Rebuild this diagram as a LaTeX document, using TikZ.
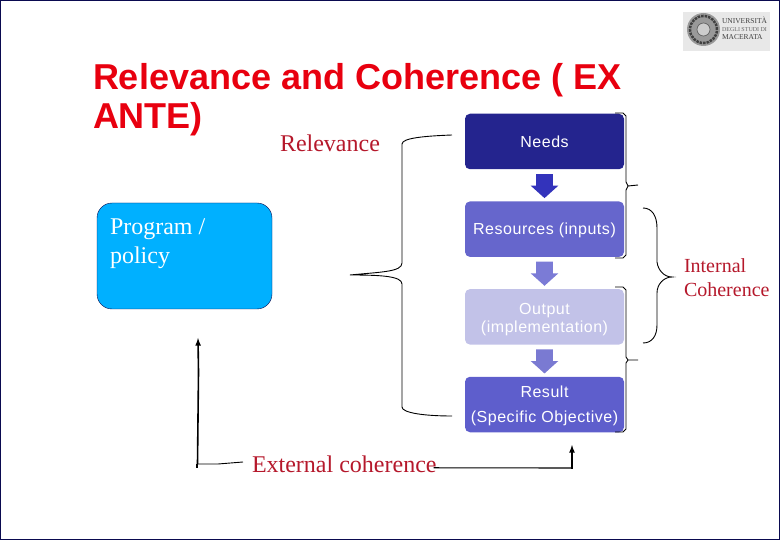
\documentclass[tikz,border=0pt]{standalone}
\usepackage{fontspec}
\setmainfont{Liberation Serif}
\setsansfont{Liberation Sans}
\newfontfamily\boxfont[LetterSpace=3.3]{Liberation Sans}
\usepackage{xcolor}
\usepackage{tikz}
\usetikzlibrary{calc}
\usetikzlibrary{positioning}
\usetikzlibrary{shapes.arrows}
\definecolor{framenavy}{HTML}{0A0A50}
\definecolor{titlered}{HTML}{E8000F}
\definecolor{labelred}{HTML}{B5182B}
\definecolor{needsblue}{HTML}{24248E}
\definecolor{resblue}{HTML}{6666CC}
\definecolor{outblue}{HTML}{C2C2E8}
\definecolor{resultblue}{HTML}{5E5ECC}
\definecolor{progblue}{HTML}{00B0FF}
\begin{document}
\begin{tikzpicture}[x=1pt,y=-1pt,node distance=87.67pt,semithick]
	\tikzstyle{every node}=[inner sep=0pt, outer sep=0pt]
	\tikzstyle{stepbox}=[rectangle, rounded corners=5pt, minimum width=159pt, minimum height=55.5pt, align=center, text=white, font=\boxfont\fontsize{16}{25}\selectfont]
	\tikzstyle{blockarrow}=[single arrow, shape border rotate=270, inner sep=8pt, minimum height=23pt, single arrow head extend=5.5pt, single arrow tip angle=96, single arrow head indent=0pt, yshift=3pt]
	\tikzstyle{redlabel}=[text=labelred, anchor=base west, align=left, font=\fontsize{24}{29}\selectfont]
	\tikzstyle{brace}=[black, line width=0.9pt]
	\useasboundingbox (0,0) rectangle (780,540);
	\draw[framenavy, line width=1pt] (0.5,0.5) rectangle (779.5,539.5);

	% logo
	\node[fill=black!9, minimum width=87pt, minimum height=39pt] (logo) at (726.5,31.5) {};
	\node[circle, fill=black!40, minimum size=33pt] (seal) at (703.5,29.5) {};
	\node[circle, draw=black!75, densely dotted, line width=2.5pt, minimum size=27pt] (sealring) at (seal) {};
	\node[circle, fill=black!20, draw=black!65, minimum size=13pt] (sealin) at (seal) {};
	\node[anchor=base west, font=\fontsize{7.5}{7.5}\selectfont, text=black!75] (uni) at (722,24) {UNIVERSIT\`A};
	\node[anchor=base west, font=\fontsize{6}{6}\selectfont, text=black!60] (degli) at (722,32) {DEGLI STUDI DI};
	\node[anchor=base west, font=\fontsize{7.5}{7.5}\selectfont, text=black!75] (mac) at (722,40) {MACERATA};

	\node[anchor=base west, align=left, text=titlered, font=\sffamily\bfseries\fontsize{36}{39}\selectfont] (title) at (93,129) {Relevance and Coherence ( EX\\ANTE)};

	\node[stepbox, fill=needsblue] (needs) at (544.5,141.5) {Needs};
	\node[stepbox, fill=resblue] (res) [below of=needs] {\rule{0pt}{14pt}Resources (inputs)};
	\node[stepbox, fill=outblue, font=\boxfont\fontsize{16}{18}\selectfont] (out) [below of=res] {\rule{0pt}{17pt}Output\\(implementation)};
	\node[stepbox, fill=resultblue] (result) [below of=out] {\rule{0pt}{14pt}Result\\(Specific Objective)};

	\foreach \i/\j/\c in {needs/res/3333BB,res/out/7B7BD6,out/result/7A7AD2}{
		\definecolor{arrowfill}{HTML}{\c}
		\node[blockarrow, fill=arrowfill] (arrow\i) at ($(\i.south)!0.5!(\j.north)$) {};
	}

	\node[rectangle, rounded corners=15pt, draw=framenavy, thin, fill=progblue, minimum width=175pt, minimum height=106pt] (prog) at (184.5,256) {};
	\node[anchor=base west, text=white, font=\fontsize{24}{29}\selectfont] (progtext) at (110,235) {Program /};
	\node[anchor=base west, text=white, font=\fontsize{24}{29}\selectfont] (progtextb) at (110,264) {policy};

	\node[redlabel] (relevance) at (280,152) {Relevance};
	\node[redlabel] (external) at (252,472) {External coherence};
	\node[redlabel, font=\fontsize{20}{24}\selectfont] (internal) at (684,296.5) {Internal\\Coherence};

	% relevance brace
	\coordinate (r1) at (452,135);
	\coordinate (r2) at (350,275);
	\coordinate (r3) at (452,416);
	\draw[brace] (r1) .. controls (425,136) and (402,138) .. (402,144) -- (402,263) .. controls (402,272) and (380,272) .. (r2) .. controls (380,275) and (402,276) .. (402,284) -- (402,407) .. controls (402,413) and (425,416) .. (r3);

	% needs and result brackets
	\coordinate (n1) at (615,113);
	\coordinate (n2) at (615,258);
	\coordinate (n3) at (638,185);
	\draw[brace] (n1) -- (623,113) -- (626,116) -- (626,182) -- (628,186) -- (n3) (628,186) -- (626,190) -- (626,255) -- (623,258) -- (n2);
	\coordinate (o1) at (615,287);
	\coordinate (o2) at (615,432);
	\coordinate (o3) at (638,360);
	\draw[brace] (o1) -- (623,287) -- (626,290) -- (626,357) -- (628,360) -- (o3) (628,360) -- (626,363) -- (626,429) -- (623,432) -- (o2);

	% internal coherence brace
	\coordinate (i1) at (643,208);
	\coordinate (i2) at (672,277);
	\coordinate (i3) at (643,343);
	\draw[brace] (i1) .. controls (652,208) and (657,216) .. (657,228) -- (657,262) .. controls (658,270) and (664,277) .. (i2) .. controls (664,277) and (657,284) .. (657,293) -- (657,325) .. controls (657,336) and (652,343) .. (i3);

	% external coherence lines
	\coordinate (e1) at (198,338);
	\coordinate (e2) at (197,468);
	\coordinate (e3) at (572,445);
	\draw[line width=1.6pt, -latex] (197.5,464) -- (198.5,372) -- (e1);
	\draw[line width=1.6pt] (197,464) -- (e2);
	\draw[brace] (197,464) -- (218,464) -- ([xshift=-9pt,yshift=10pt]external.base west);
	\draw[line width=1.1pt] ([xshift=-3pt,yshift=-4pt]external.east) -- (572,468);
	\draw[line width=1.6pt, -latex] (572,468.5) -- (e3);
\end{tikzpicture}
\end{document}
